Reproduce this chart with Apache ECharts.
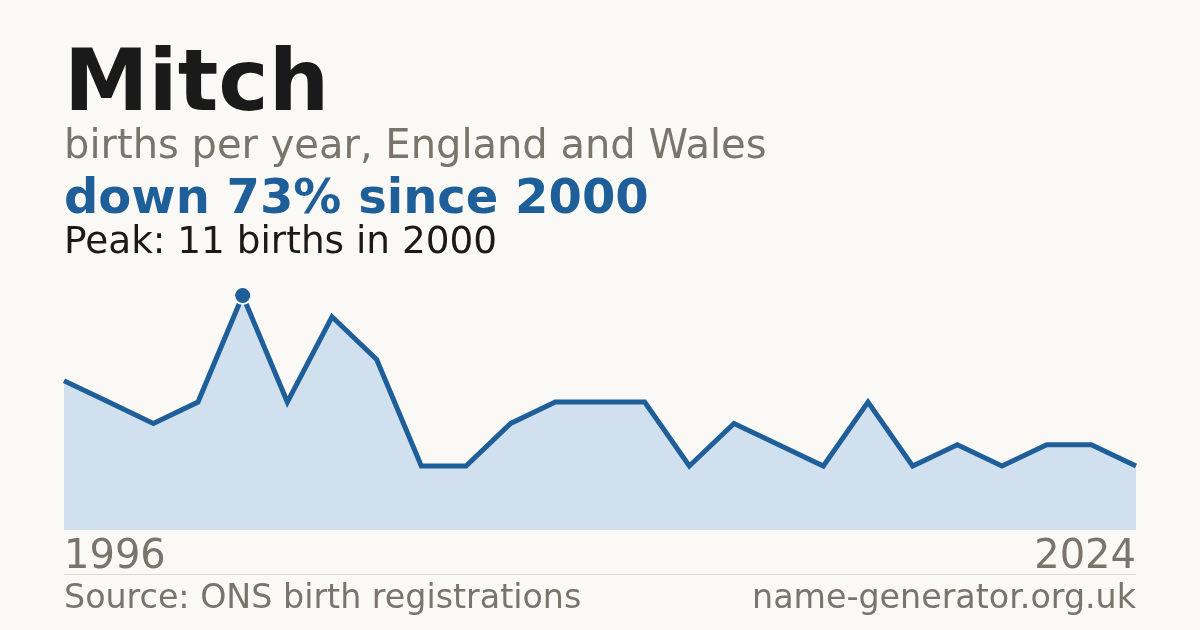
<!DOCTYPE html>
<html><head><meta charset="utf-8">
<script src="https://cdn.jsdelivr.net/npm/echarts@6/dist/echarts.min.js"></script>
<style>html,body{margin:0;padding:0;background:#faf9f5;}#c{width:1200px;height:630px;}</style>
</head><body><div id="c"></div>
<script>
const years = ['1996','1997','1998','1999','2000','2001','2002','2003','2004','2005','2006','2007','2008','2009','2010','2011','2012','2014','2015','2017','2018','2020','2021','2023','2024'];
const births = [7,6,5,6,11,6,10,8,3,3,5,6,6,6,3,5,4,3,6,3,4,3,4,4,3];
const peakIndex = 4;

const FONT = 'DejaVu Sans';
const chart = echarts.init(document.getElementById('c'), null, {renderer:'canvas'});
const peakData = births.map((v,i)=> i===peakIndex ? v : '-');

chart.setOption({
  backgroundColor:'#faf9f5',
  animation:false,
  grid:{left:64,right:64,top:272,bottom:100,containLabel:false},
  xAxis:{type:'category',data:years,boundaryGap:false,
    axisLine:{show:false},axisTick:{show:false},splitLine:{show:false},
    axisLabel:{show:true,interval:(i)=> i===0 || i===years.length-1,
      alignMinLabel:'left',alignMaxLabel:'right',
      fontFamily:FONT,fontSize:40,lineHeight:40,color:'#7a746c',margin:8,
      showMinLabel:true,showMaxLabel:true}},
  yAxis:{type:'value',min:0,max:12.1,show:false},
  series:[
    {type:'line',data:births,showSymbol:false,symbol:'none',
     lineStyle:{color:'#1f5f99',width:5,join:'miter'},
     areaStyle:{color:'#d0e0ef',opacity:1},z:2},
    {type:'scatter',data:peakData,symbol:'circle',symbolSize:17,
     itemStyle:{color:'#1f5f99',borderColor:'#faf9f5',borderWidth:2,opacity:1},z:5}
  ],
  graphic:[
    {type:'text',left:64,top:45,style:{text:'Mitch',font:'bold 85px "DejaVu Sans"',fill:'#1a1a1a'}},
    {type:'text',left:64,top:128,style:{text:'births per year, England and Wales',font:'40px "DejaVu Sans"',fill:'#7a746c'}},
    {type:'text',left:64,top:177,style:{text:'down 73% since 2000',font:'bold 48px "DejaVu Sans"',fill:'#1f5f99'}},
    {type:'text',left:64,top:225,style:{text:'Peak: 11 births in 2000',font:'37.4px "DejaVu Sans"',fill:'#1a1a1a'}},
    {type:'line',shape:{x1:64,y1:574.5,x2:1136,y2:574.5},style:{stroke:'#dddad3',lineWidth:1}},
    {type:'text',left:64,top:583,style:{text:'Source: ONS birth registrations',font:'33.3px "DejaVu Sans"',fill:'#7a746c'}},
    {type:'text',right:64,top:583,style:{text:'name-generator.org.uk',font:'33.3px "DejaVu Sans"',fill:'#7a746c',align:'left'}}
  ]
});
</script></body></html>
